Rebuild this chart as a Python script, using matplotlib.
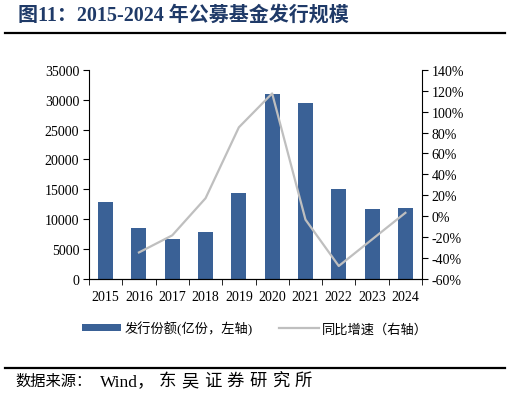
import numpy as np
import matplotlib.pyplot as plt
from matplotlib.lines import Line2D

plt.rcParams['font.family'] = ['Liberation Serif', 'Noto Sans CJK SC', 'DejaVu Sans']

years = ['2015', '2016', '2017', '2018', '2019', '2020', '2021', '2022', '2023', '2024']
issue_size = [12800, 8400, 6700, 7800, 14300, 30900, 29500, 15100, 11600, 11900]
# growth has no value for 2015
growth = [np.nan, -35.0, -18.6, 17.0, 85.0, 117.5, -3.5, -48.0, -22.5, 3.0]

bar_color = '#3A6196'
line_color = '#BFBFBF'

W, H = 510, 402
fig = plt.figure(figsize=(W / 100, H / 100), dpi=100)
ax = fig.add_axes([0.1745, 0.3047, 0.653, 0.5187])
ax2 = ax.twinx()

x = np.arange(len(years))
bars = ax.bar(x, issue_size, width=0.45, color=bar_color, zorder=2,
              label='发行份额(亿份，左轴)')
ln, = ax2.plot(x, growth, color=line_color, lw=1.6, zorder=3,
               label='同比增速（右轴）')

ax.set_xlim(-0.5, len(years) - 0.5)
ax.set_ylim(0, 35000)
ax.set_yticks(np.arange(0, 35001, 5000))
ax2.set_ylim(-60, 140)
ax2.set_yticks(np.arange(-60, 141, 20))
ax2.set_yticklabels([f'{v}%' for v in range(-60, 141, 20)])

ax.set_xticks(x)
ax.set_xticklabels(years)
ax.set_xticks(np.arange(-0.5, len(years), 1), minor=True)
ax.tick_params(axis='x', which='major', length=0, labelsize=10, pad=8)
ax.tick_params(axis='x', which='minor', length=4, direction='out')
ax.tick_params(axis='y', labelsize=10, length=4, direction='out', pad=3)
ax2.tick_params(axis='y', labelsize=10, length=4, direction='out', pad=3)

for a in (ax, ax2):
    a.spines['top'].set_visible(False)
    for s in ('left', 'right', 'bottom'):
        a.spines[s].set_linewidth(0.8)
ax.spines['right'].set_visible(False)
ax2.spines['left'].set_visible(False)

# title and rules
fig.text(18 / W, 1 - 16 / H, '图11：2015-2024 年公募基金发行规模', fontsize=14.4,
         fontweight='bold', color='#1F3A68', va='center', ha='left')
fig.add_artist(Line2D([0.01, 0.99], [1 - 34 / H] * 2, color='black', lw=1.6))
fig.add_artist(Line2D([0.01, 0.99], [1 - 369 / H] * 2, color='black', lw=1.6))

# source line, the last part is set with wider letter spacing
src_y = 1 - 382 / H
fig.text(15 / W, src_y, '数据来源：', fontsize=11, va='center', ha='left')
fig.text(100 / W, src_y, 'Wind，', fontsize=12.5, va='center', ha='left')
for i, ch in enumerate('东吴证券研究所'):
    fig.text((159 + i * 22.6) / W, src_y, ch, fontsize=12.5, va='center', ha='left')

fig.legend(handles=[bars, ln], loc='center', bbox_to_anchor=(0.5, 1 - 329 / H),
           ncol=2, frameon=False, fontsize=9.5, handlelength=3.0,
           handleheight=0.5, handletextpad=0.25, columnspacing=2.0)

fig.savefig('out.png', dpi=100)
